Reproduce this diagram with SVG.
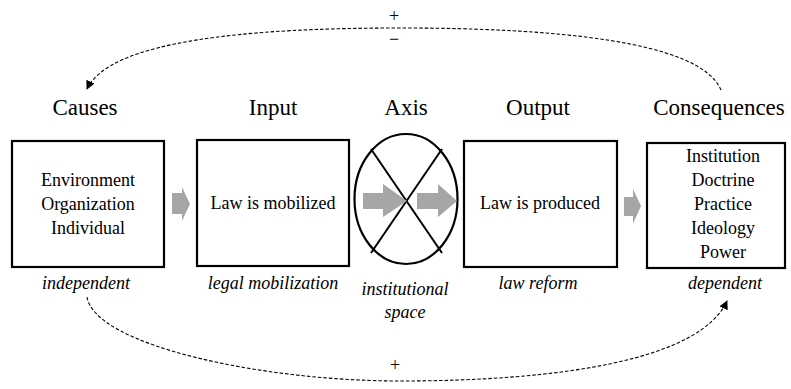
<svg xmlns="http://www.w3.org/2000/svg" width="791" height="389" viewBox="0 0 791 389">
<style>
text{font-family:"Liberation Serif","Times New Roman",Times,"DejaVu Serif",serif;text-anchor:middle;fill:#000}
.box{fill:#fff;stroke:#000;stroke-width:2.2}
.t{font-size:18px}
.h{font-size:23px}
.i{font-size:18px;font-style:italic}
.s{font-size:18px}
.ga{fill:#a6a6a6;stroke:none}
.dash{fill:none;stroke:#000;stroke-width:1.1;stroke-dasharray:3.5,2}
</style>
<defs>
<marker id="ah" viewBox="0 0 10 10" refX="9" refY="5" markerWidth="9" markerHeight="9" markerUnits="userSpaceOnUse" orient="auto">
<path d="M0,0 L10,5 L0,10 z" fill="#000"/>
</marker>
</defs>
<g id="causes">
<text class="h" x="85" y="115">Causes</text>
<rect class="box" x="12" y="141" width="152" height="126"/>
<text class="t" x="88" y="186">Environment</text>
<text class="t" x="88" y="210">Organization</text>
<text class="t" x="88" y="234">Individual</text>
<text class="i" x="86" y="289">independent</text>
</g>
<g id="input">
<text class="h" x="273" y="115">Input</text>
<rect class="box" x="197" y="140" width="152" height="126"/>
<text class="t" x="273" y="209">Law is mobilized</text>
<text class="i" x="273" y="289">legal mobilization</text>
</g>
<g id="axis">
<text class="h" x="406" y="115">Axis</text>
<ellipse cx="406" cy="199" rx="51.5" ry="65" fill="#fff" stroke="#000" stroke-width="2.2"/>
<line x1="371" y1="149" x2="442" y2="253" stroke="#000" stroke-width="2"/>
<line x1="442" y1="149" x2="371" y2="253" stroke="#000" stroke-width="2"/>
<path class="ga" d="M363,193 L383,193 L383,184 L407,201 L383,217 L383,209 L363,209 z"/>
<path class="ga" d="M417,193 L438,193 L438,184 L457,201 L438,217 L438,209 L417,209 z"/>
<text class="i" x="405" y="295">institutional</text>
<text class="i" x="405" y="318">space</text>
</g>
<g id="output">
<text class="h" x="538" y="115">Output</text>
<rect class="box" x="464" y="141" width="153" height="126"/>
<text class="t" x="540" y="209">Law is produced</text>
<text class="i" x="538" y="289">law reform</text>
</g>
<g id="consequences">
<text class="h" x="719" y="115">Consequences</text>
<rect class="box" x="647" y="143" width="138" height="125"/>
<text class="t" x="723" y="162">Institution</text>
<text class="t" x="723" y="186">Doctrine</text>
<text class="t" x="723" y="210">Practice</text>
<text class="t" x="723" y="234">Ideology</text>
<text class="t" x="723" y="258">Power</text>
<text class="i" x="725" y="289">dependent</text>
</g>
<g id="connectors">
<path class="ga" d="M172,193 L182,193 L182,187 L190,204 L182,221 L182,214 L172,214 z"/>
<path class="ga" d="M624,197 L633,197 L633,189 L641,206 L633,224 L633,216 L624,216 z"/>
<path class="dash" d="M721,90 C700,40 550,28 400,28 C250,28 110,40 87,89" marker-end="url(#ah)"/>
<path class="dash" d="M87,297 C95,345 260,381 400,381 C560,381 700,360 727,301" marker-end="url(#ah)"/>
<text class="s" x="394" y="22">+</text>
<text class="s" x="394" y="45">−</text>
<text class="s" x="395" y="371">+</text>
</g>
</svg>
